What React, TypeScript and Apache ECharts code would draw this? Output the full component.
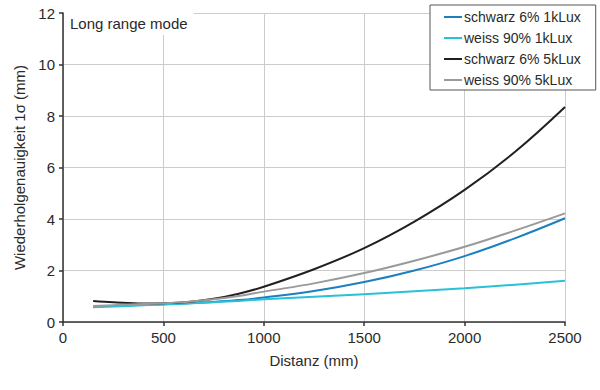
import React, { useEffect, useRef } from "react";
import * as echarts from "echarts";

const distances = [150, 250, 400, 500, 625, 750, 875, 1000, 1250, 1500, 1750, 2000, 2250, 2500];
const schwarz1k = [0.6, 0.63, 0.67, 0.69, 0.73, 0.78, 0.85, 0.95, 1.2, 1.55, 2.0, 2.56, 3.25, 4.03];
const weiss1k = [0.57, 0.6, 0.65, 0.68, 0.72, 0.77, 0.82, 0.88, 0.98, 1.08, 1.19, 1.31, 1.45, 1.6];
const schwarz5k = [0.82, 0.77, 0.72, 0.73, 0.78, 0.9, 1.1, 1.37, 2.05, 2.87, 3.9, 5.13, 6.6, 8.35];
const weiss5k = [0.62, 0.65, 0.7, 0.73, 0.79, 0.88, 1.01, 1.18, 1.5, 1.9, 2.38, 2.92, 3.55, 4.22];

const seriesNames = ["schwarz 6% 1kLux", "weiss 90% 1kLux", "schwarz 6% 5kLux", "weiss 90% 5kLux"];
const seriesColors = ["#1b7fc0", "#27c1d8", "#231f20", "#9a9a9a"];
const seriesValues = [schwarz1k, weiss1k, schwarz5k, weiss5k];

const FONT = "'Liberation Sans', Arial, sans-serif";
const TEXT = "#2a2a2a";

export default function App() {
  const ref = useRef<HTMLDivElement>(null);
  useEffect(() => {
    if (!ref.current) return;
    const chart = echarts.init(ref.current, undefined, { renderer: "svg" });
    chart.setOption({
      animation: false,
      textStyle: { fontFamily: FONT },
      grid: { left: 63, right: 35, top: 13, bottom: 68, containLabel: false },
      xAxis: {
        type: "value",
        min: 0,
        max: 2500,
        interval: 500,
        name: "Distanz (mm)",
        nameLocation: "middle",
        nameGap: 31,
        nameTextStyle: { fontSize: 15, color: TEXT, fontFamily: FONT },
        axisLine: { show: true, lineStyle: { color: "#333", width: 1.5 } },
        axisTick: { show: true, length: 4, lineStyle: { color: "#333", width: 1.5 } },
        axisLabel: { fontSize: 15, color: TEXT, margin: 8, fontFamily: FONT, formatter: (v: number) => String(v) },
        splitLine: { show: true, lineStyle: { color: "#cccccc", width: 1 } },
      },
      yAxis: {
        type: "value",
        min: 0,
        max: 12,
        interval: 2,
        name: "Wiederholgenauigkeit 1σ (mm)",
        nameLocation: "middle",
        nameGap: 34,
        nameTextStyle: { fontSize: 15, color: TEXT, fontFamily: FONT },
        axisLine: { show: true, lineStyle: { color: "#333", width: 1.5 } },
        axisTick: { show: true, length: 4, lineStyle: { color: "#333", width: 1.5 } },
        axisLabel: { fontSize: 15, color: TEXT, margin: 8, fontFamily: FONT, formatter: (v: number) => String(v) },
        splitLine: { show: true, lineStyle: { color: "#cccccc", width: 1 } },
      },
      legend: {
        orient: "vertical",
        left: 430,
        top: 5,
        data: seriesNames,
        icon: "rect",
        itemWidth: 18,
        itemHeight: 2,
        itemGap: 7,
        padding: [5, 15, 3, 14],
        backgroundColor: "#fff",
        borderColor: "#555",
        borderWidth: 1,
        textStyle: { fontSize: 14, color: TEXT, fontFamily: FONT, padding: [0, 0, 0, -3] },
      },
      graphic: [
        {
          type: "text",
          left: 64,
          top: 13,
          z: 10,
          style: {
            text: "Long range mode",
            fontSize: 15,
            fontFamily: FONT,
            fill: TEXT,
            backgroundColor: "#fff",
            padding: [3, 6, 4, 6],
          },
        },
      ],
      series: seriesNames.map((name, i) => ({
        name,
        type: "line",
        smooth: 0.4,
        showSymbol: false,
        symbol: "none",
        lineStyle: { color: seriesColors[i], width: 2 },
        itemStyle: { color: seriesColors[i] },
        data: distances.map((d, j) => [d, seriesValues[i][j]]),
      })),
    });
    return () => chart.dispose();
  }, []);
  return <div ref={ref} style={{ position: "absolute", left: 0, top: 0, width: 600, height: 390 }} />;
}
